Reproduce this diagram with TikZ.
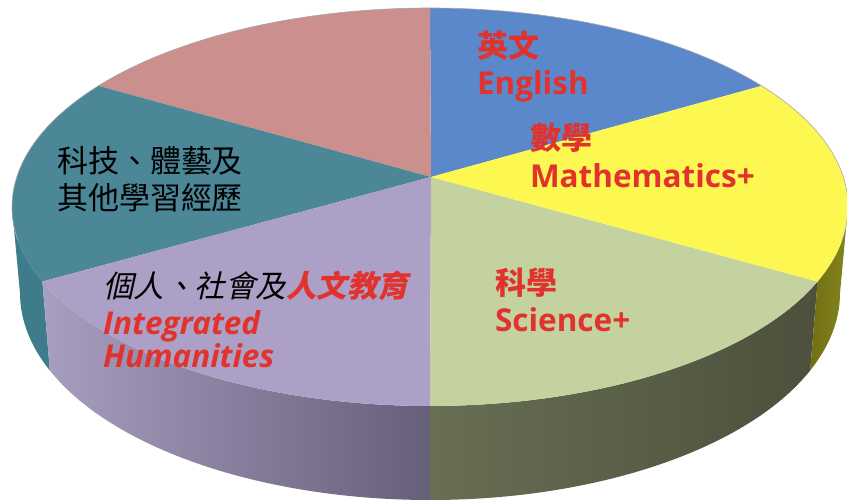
\documentclass[tikz,border=0pt]{standalone}
\usepackage{fontspec}
\usetikzlibrary{calc}
\newfontfamily\cjk{Noto Sans CJK TC}
\newfontfamily\cjkI[FakeSlant=0.22]{Noto Sans CJK TC}
\newfontfamily\lat{Open Sans}
\definecolor{cpink}{RGB}{203,144,141}
\definecolor{cblue}{RGB}{91,136,202}
\definecolor{cyellow}{RGB}{253,247,82}
\definecolor{cgreen}{RGB}{196,210,160}
\definecolor{cpurple}{RGB}{173,160,198}
\definecolor{cteal}{RGB}{75,135,151}
\definecolor{sideteal}{RGB}{62,124,139}
\definecolor{sidepurpL}{RGB}{168,158,192}
\definecolor{sidepurpR}{RGB}{102,95,122}
\definecolor{sidegreenL}{RGB}{104,111,84}
\definecolor{sidegreenR}{RGB}{76,80,60}
\definecolor{sideyelL}{RGB}{112,112,20}
\definecolor{sideyelR}{RGB}{132,132,30}
\definecolor{cred}{RGB}{225,50,45}
\tikzset{
  lbl/.style={anchor=base west, inner sep=0pt, outer sep=0pt},
  redlbl/.style={lbl, text=cred},
  blklbl/.style={lbl, text=black}
}
\begin{document}
\begin{tikzpicture}[x=1pt,y=1pt]
\useasboundingbox (0,0) rectangle (847,503);
\coordinate (C) at (431,326);
\coordinate (T) at (430,296);
\coordinate (B) at (430,210);
% side faces
\fill[sideteal] ($(T)+(180:418 and 199)$) arc[start angle=180,end angle=202,x radius=418,y radius=199]
  -- ($(B)+(202:410 and 207)$) arc[start angle=202,end angle=180,x radius=410,y radius=207] -- cycle;
\shade[left color=sidepurpL,right color=sidepurpR] ($(T)+(202:418 and 199)$) arc[start angle=202,end angle=270,x radius=418,y radius=199]
  -- ($(B)+(270:410 and 207)$) arc[start angle=270,end angle=202,x radius=410,y radius=207] -- cycle;
\shade[left color=sidegreenL,right color=sidegreenR] ($(T)+(270:418 and 199)$) arc[start angle=270,end angle=338,x radius=418,y radius=199]
  -- ($(B)+(338:410 and 207)$) arc[start angle=338,end angle=270,x radius=410,y radius=207] -- cycle;
\shade[left color=sideyelL,right color=sideyelR] ($(T)+(338:418 and 199)$) arc[start angle=338,end angle=360,x radius=418,y radius=199]
  -- ($(B)+(360:410 and 207)$) arc[start angle=360,end angle=338,x radius=410,y radius=207] -- cycle;
% top slices
\fill[cblue] (C) -- ($(T)+(37.5:418 and 199)$) arc[start angle=37.5,end angle=90,x radius=418,y radius=199] -- cycle;
\fill[cpink] (C) -- ($(T)+(90:418 and 199)$) arc[start angle=90,end angle=142.5,x radius=418,y radius=199] -- cycle;
\fill[cteal] (C) -- ($(T)+(142.5:418 and 199)$) arc[start angle=142.5,end angle=202,x radius=418,y radius=199] -- cycle;
\fill[cpurple] (C) -- ($(T)+(202:418 and 199)$) arc[start angle=202,end angle=270,x radius=418,y radius=199] -- cycle;
\fill[cgreen] (C) -- ($(T)+(270:418 and 199)$) arc[start angle=270,end angle=338,x radius=418,y radius=199] -- cycle;
\fill[cyellow] (C) -- ($(T)+(-22:418 and 199)$) arc[start angle=-22,end angle=37.5,x radius=418,y radius=199] -- cycle;
\draw[gray!70,line width=0.6pt] ($(T)+(-10:418 and 199)$) arc[start angle=-10,end angle=190,x radius=418,y radius=199];
% labels
\node[blklbl,font=\cjk\fontsize{31}{36}\selectfont] (t1) at (57,330) {科技、體藝及};
\node[blklbl,font=\cjk\fontsize{31}{36}\selectfont] (t2) at (57,293) {其他學習經歷};
\node[redlbl,font=\cjk\bfseries\fontsize{31}{36}\selectfont] (e1) at (477,445) {英文};
\node[redlbl,font=\lat\bfseries\fontsize{31.5}{36}\selectfont] (e2) at (477,408) {English};
\node[redlbl,font=\cjk\bfseries\fontsize{31}{36}\selectfont] (m1) at (530,353) {數學};
\node[redlbl,font=\lat\bfseries\fontsize{31.5}{36}\selectfont] (m2) at (530,315) {Mathematics+};
\node[redlbl,font=\cjk\bfseries\fontsize{31}{36}\selectfont] (s1) at (495,208) {科學};
\node[redlbl,font=\lat\bfseries\fontsize{31.5}{36}\selectfont] (s2) at (495,171) {Science+};
\node[lbl,font=\fontsize{30.5}{36}\selectfont] (h1) at (103,205) {{\cjkI 個人、社會及}{\cjkI\bfseries\color{cred}人文教育}};
\node[redlbl,font=\lat\bfseries\itshape\fontsize{31.5}{36}\selectfont] (h2) at (103,168) {Integrated};
\node[redlbl,font=\lat\bfseries\itshape\fontsize{31.5}{36}\selectfont] (h3) at (103,135) {Humanities};
\end{tikzpicture}
\end{document}
